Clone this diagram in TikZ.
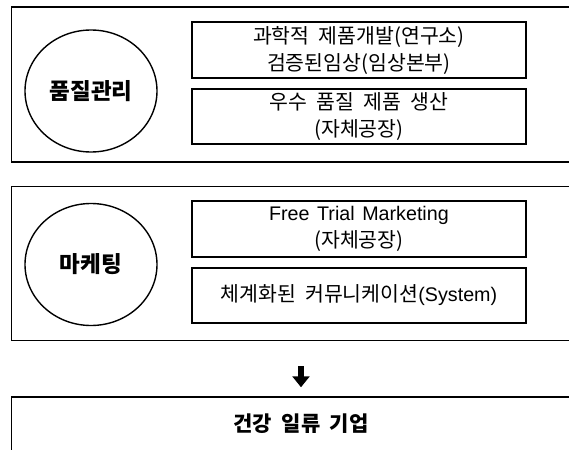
\documentclass[tikz,border=0pt]{standalone}
\usepackage{fontspec}
\setmainfont{Noto Sans CJK KR}[WordSpace=2]
\newfontfamily\latinfont{Liberation Sans}[WordSpace=1.4, Scale=0.96]
\newcommand\lat[1]{{\latinfont #1}}
\usetikzlibrary{arrows.meta, shapes.geometric}

\begin{document}
\begin{tikzpicture}[
  x=1pt, y=-1pt,
  font=\fontsize{20.5}{27}\selectfont,
  frame/.style={draw, line width=1.5pt, minimum width=589pt, inner sep=0pt},
  item/.style={draw, line width=2pt, minimum width=334pt, minimum height=55.5pt,
               align=center, inner sep=0pt},
  ring/.style={draw, ellipse, line width=1.4pt, minimum width=132pt, minimum height=122pt,
               inner sep=0pt, font=\fontsize{22.5}{26}\selectfont\bfseries},
  arr/.style={-{Triangle[length=11pt,width=17pt]}, line width=6pt},
]
\useasboundingbox (0,0) rectangle (569,449);

% --- quality block ---
\node[frame, minimum height=154.7pt] (qframe) at (306,84.4) {};
\node[ring] (qc) at (91,91) {품질관리};
\node[item] (q1) at (358.9,50) {과학적 제품개발(연구소)\\검증된임상(임상본부)};
\node[item] (q2) at (358.9,116.5) {우수 품질 제품 생산\\(자체공장)};

% --- marketing block ---
\node[frame, minimum height=154pt] (mframe) at (306,263.7) {};
\node[ring] (mc) at (91,264.5) {마케팅};
\node[item] (m1) at (358.9,229) {\lat{Free Trial Marketing}\\(자체공장)};
\node[item] (m2) at (358.9,295.5) {체계화된 커뮤니케이션\lat{(System)}};

% --- goal ---
\node[frame, minimum width=579pt, minimum height=54pt, font=\fontsize{21}{25}\selectfont\bfseries]
  (goal) at (301,424) {건강 일류 기업};
\draw[arr, shorten <=25pt, shorten >=9pt] (goal.north |- mframe.south) -- (goal.north);
\end{tikzpicture}
\end{document}
